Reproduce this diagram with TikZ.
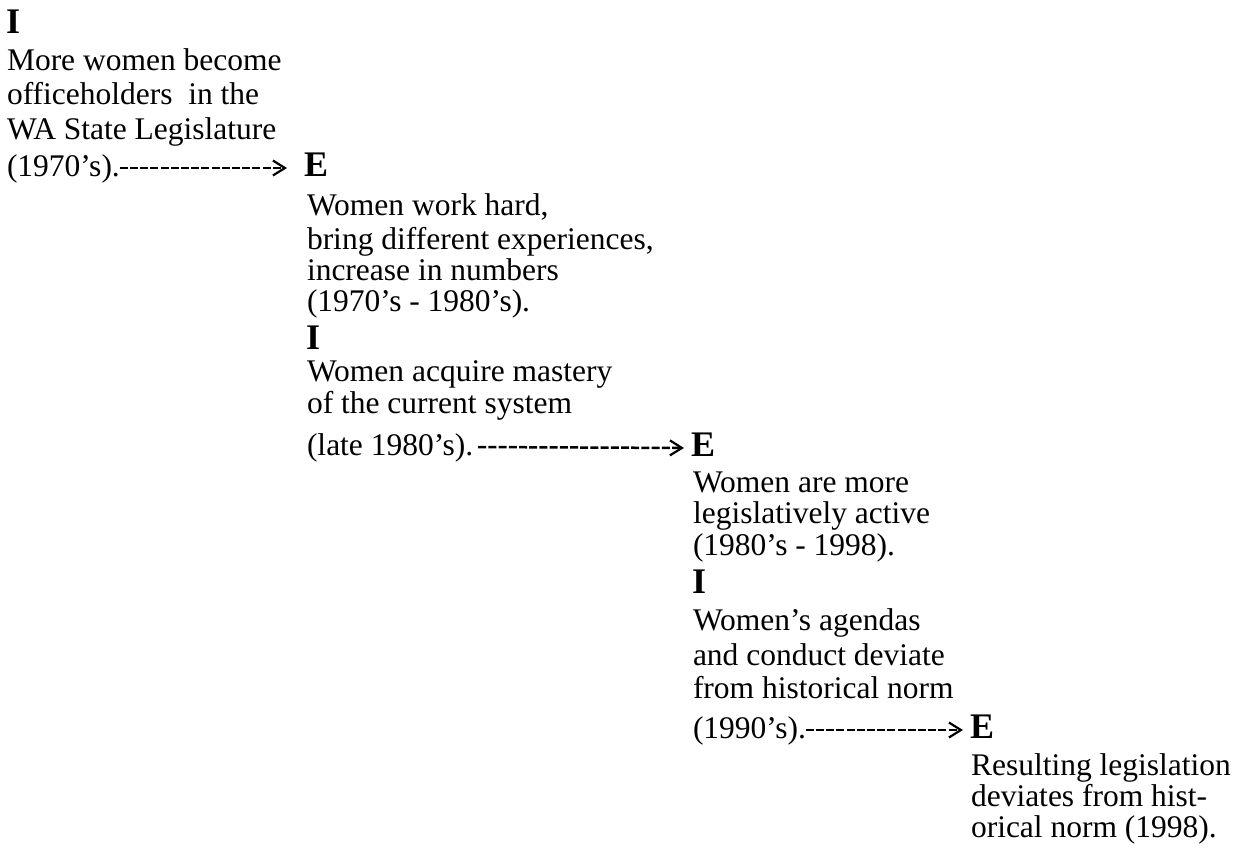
\documentclass[tikz,border=0pt]{standalone}
\usepackage{fontspec}
\setmainfont{Liberation Serif}
\usetikzlibrary{arrows.meta}
\begin{document}
\begin{tikzpicture}[x=1pt,y=-1pt,
  txt/.style={anchor=base west, inner sep=0pt, outer sep=0pt, font=\fontsize{31.5}{37}\selectfont},
  lbl/.style={anchor=base west, inner sep=0pt, outer sep=0pt, font=\fontsize{36}{40}\selectfont\bfseries},
  conn/.style={line width=2.5pt, dash pattern=on 8pt off 2.2pt,
    -{Straight Barb[length=12pt,width=15pt,line width=2.2pt]}}]
\useasboundingbox (0,0) rectangle (1236,847);
% block 1
\node[lbl] (i1) at (6,33) {I};
\node[txt] (a1) at (7,70) {More women become};
\node[txt] (a2) at (7,104) {officeholders\ \ in the};
\node[txt] (a3) at (7,139) {WA State Legislature};
\node[txt] (a4) at (7,176) {(1970’s).};
\node[lbl] (e1) at (304,176) {E};
\draw[conn, shorten >=17pt] ([yshift=8pt]a4.base east) -- ([yshift=8pt]e1.base west);
% block 2
\node[txt] (b1) at (307,215) {Women work hard,};
\node[txt] (b2) at (307,249) {bring different experiences,};
\node[txt] (b3) at (307,280) {increase in numbers};
\node[txt] (b4) at (307,311) {(1970’s - 1980’s).};
\node[lbl] (i2) at (306,349) {I};
\node[txt] (b5) at (307,381) {Women acquire mastery};
\node[txt] (b6) at (307,413) {of the current system};
\node[txt] (b7) at (307,455) {(late 1980’s).};
\node[lbl] (e2) at (691,456) {E};
\draw[conn, shorten <=5pt, shorten >=7pt] ([yshift=8pt]b7.base east) -- ([yshift=8pt]e2.base west);
% block 3
\node[txt] (c1) at (693,492) {Women are more};
\node[txt] (c2) at (693,523) {legislatively active};
\node[txt] (c3) at (693,555) {(1980’s - 1998).};
\node[lbl] (i3) at (692,593) {I};
\node[txt] (c4) at (693,630) {Women’s agendas};
\node[txt] (c5) at (693,665) {and conduct deviate};
\node[txt] (c6) at (693,698) {from historical norm};
\node[txt] (c7) at (693,738) {(1990’s).};
\node[lbl] (e3) at (970,738) {E};
\draw[conn, shorten >=7pt] ([yshift=8pt]c7.base east) -- ([yshift=8pt]e3.base west);
% block 4
\node[txt] (d1) at (971,775) {Resulting legislation};
\node[txt] (d2) at (971,806) {deviates from hist-};
\node[txt] (d3) at (971,837) {orical norm (1998).};
\end{tikzpicture}
\end{document}
